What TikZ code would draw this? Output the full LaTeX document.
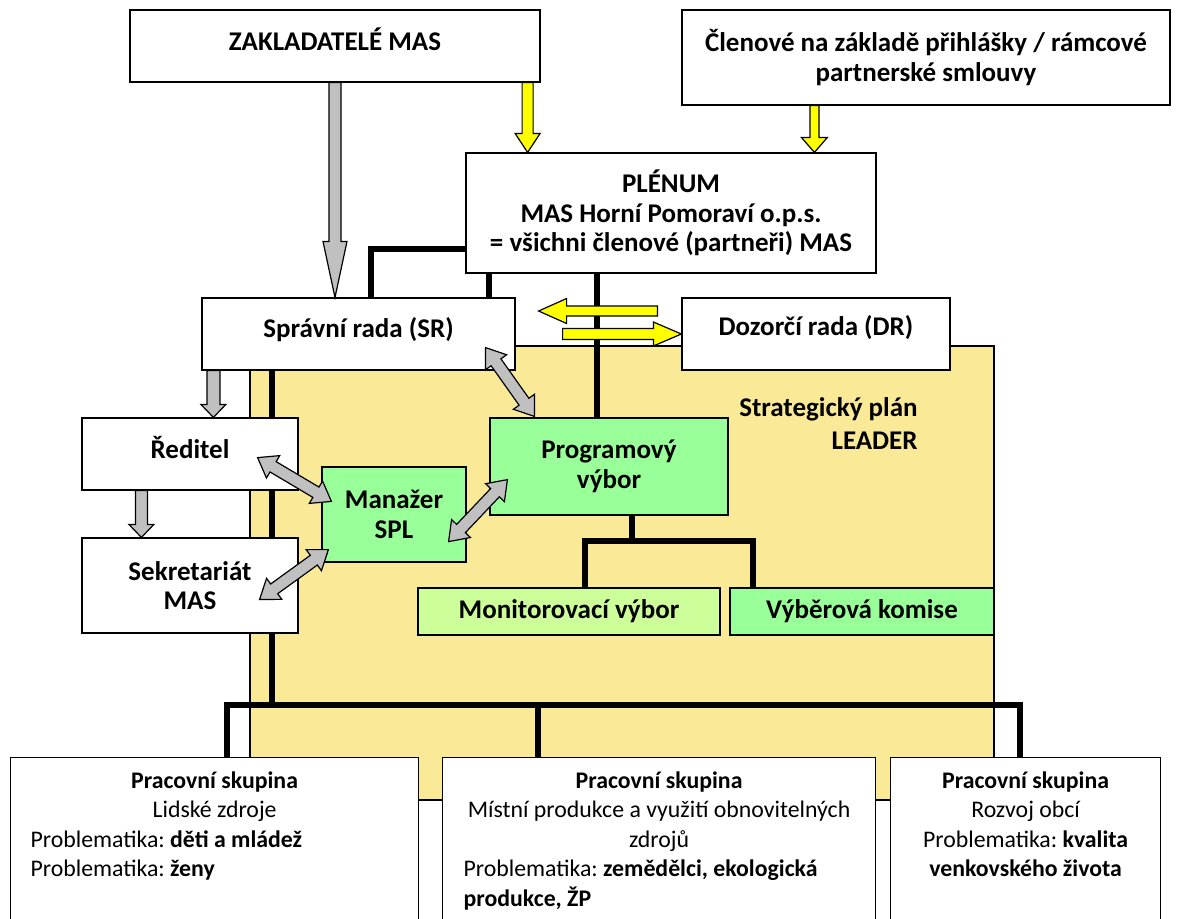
\documentclass[tikz,border=0pt]{standalone}
\usepackage{fontspec}
\setmainfont{Carlito}
\usetikzlibrary{calc}

\definecolor{zluta}{RGB}{250,233,150}
\definecolor{zelena}{RGB}{153,255,153}
\definecolor{svzelena}{RGB}{204,255,153}
\definecolor{seda}{RGB}{192,192,192}
\definecolor{sipkazluta}{RGB}{255,255,0}

\tikzset{
  box/.style={draw, line width=0.6pt, fill=white, inner sep=2pt, align=center,
    font=\fontsize{13.5}{14.75}\selectfont\bfseries},
  skupina/.style={draw, line width=0.6pt, fill=white, anchor=north west, inner ysep=7pt,
    font=\fontsize{11.9}{14.75}\selectfont},
  spoj/.style={line width=3pt},
}

% sipka: od, do, barva, pul sirky, pul hlavy, delka hlavy
\newcommand\sipka[6]{
  \coordinate (sA) at (#1);
  \coordinate (sB) at (#2);
  \coordinate (sH) at ($(sB)!#6!(sA)$);
  \draw[fill=#3, line width=0.6pt] ($(sA)!#4!90:(sB)$) -- ($(sH)!#4!90:(sB)$) -- ($(sH)!#5!90:(sB)$) -- (sB)
    -- ($(sH)!#5!-90:(sB)$) -- ($(sH)!#4!-90:(sB)$) -- ($(sA)!#4!-90:(sB)$) -- cycle;
}
% dvojsipka: od, do, pul sirky, pul hlavy, delka hlavy
\newcommand\dvojsipka[5]{
  \coordinate (sA) at (#1);
  \coordinate (sB) at (#2);
  \coordinate (sH) at ($(sB)!#5!(sA)$);
  \coordinate (sG) at ($(sA)!#5!(sB)$);
  \draw[fill=seda, line width=0.6pt] (sA) -- ($(sG)!#4!90:(sB)$) -- ($(sG)!#3!90:(sB)$) -- ($(sH)!#3!90:(sB)$)
    -- ($(sH)!#4!90:(sB)$) -- (sB) -- ($(sH)!#4!-90:(sB)$) -- ($(sH)!#3!-90:(sB)$)
    -- ($(sG)!#3!-90:(sB)$) -- ($(sG)!#4!-90:(sB)$) -- cycle;
}

\begin{document}
\frenchspacing
\begin{tikzpicture}[x=0.5pt, y=-0.5pt]
\useasboundingbox[fill=white] (0,0) rectangle (1184,918);
\clip (0,0) rectangle (1184,918);

\fill[zluta, draw=black, line width=0.6pt] (250,346) rectangle (994,800);

\node[box, text depth=7pt, minimum width=205pt, minimum height=36pt] (zakl) at (335,46) {ZAKLADATELÉ MAS};
\node[box, minimum width=244pt, minimum height=47.5pt] (clen) at (926,57.5) {Členové na základě přihlášky / rámcové\\partnerské smlouvy};
\node[box, minimum width=205pt, minimum height=60pt] (plen) at (671,213) {PLÉNUM\\MAS Horní Pomoraví o.p.s.\\= všichni členové (partneři) MAS};
\node[box, text depth=6.5pt, minimum width=156.5pt, minimum height=36pt] (sr) at (358.5,334) {Správní rada (SR)};
\node[box, text depth=8.5pt, minimum width=134pt, minimum height=36pt] (dr) at (816,334) {Dozorčí rada (DR)};
\node[box, fill=zelena, minimum width=72pt, minimum height=47.5pt] (man) at (394,514.5) {Manažer\\SPL};
\node[box, fill=zelena, minimum width=119pt, minimum height=48.5pt] (prog) at (609,466.5) {Programový\\výbor};
\node[box, fill=svzelena, minimum width=151pt, minimum height=23.5pt] (mon) at (569,611.5) {Monitorovací výbor};
\node[box, fill=zelena, minimum width=132pt, minimum height=23.5pt] (vyb) at (862,611.5) {Výběrová komise};
\node[font=\fontsize{13.5}{16.5}\selectfont\bfseries, align=right, anchor=east, inner sep=0pt] (spl) at (918,423.5) {Strategický plán\\LEADER};

\node[skupina, inner xsep=10pt] (ps1) at (10,757) {\parbox[t][75pt][t]{184pt}{%
  \centerline{\textbf{Pracovní skupina}}
  \centerline{Lidské zdroje}
  Problematika: \textbf{děti a mládež}\\
  Problematika: \textbf{ženy}}};
\node[skupina, inner xsep=10.5pt] (ps2) at (442,757) {\parbox[t][75pt][t]{195.5pt}{%
  \centerline{\textbf{Pracovní skupina}}
  \centerline{Místní produkce a využití obnovitelných}
  \centerline{zdrojů}
  Problematika: \textbf{zemědělci, ekologická}\\
  \textbf{produkce, ŽP}}};
\node[skupina, inner xsep=5pt] (ps3) at (890,757) {\parbox[t][75pt][t]{125pt}{%
  \centerline{\textbf{Pracovní skupina}}
  \centerline{Rozvoj obcí}
  \centerline{Problematika: \textbf{kvalita}}
  \centerline{\textbf{venkovského života}}}};

\coordinate (bus) at (0,705);
\draw[spoj] ($(plen.south west)!0.2!(plen.north west)$) -| ($(sr.north)+(12.5,0)$);
\draw[spoj] ($(plen.south west)+(24,0)$) coordinate (p1) -- (p1 |- sr.north);
\draw[spoj] ($(prog.north west)+(108,0)$) coordinate (p2) -- (p2 |- plen.south);
\draw[spoj] ($(prog.south west)+(143,0)$) coordinate (p3) -- ++(0,25) coordinate (p4);
\draw[spoj] ($(mon.north west)+(168,0)$) |- (p4) -| ($(vyb.north west)+(24,0)$);
\draw[spoj] ($(sr.south west)+(71,0)$) coordinate (s1) -- (s1 |- bus);
\coordinate (d1) at ($(ps1.north west)+(217,0)$);
\coordinate (d2) at ($(ps2.north west)+(96,0)$);
\coordinate (d3) at ($(ps3.north west)+(130,0)$);
\draw[spoj] (d1) -- (d1 |- bus) -- (d3 |- bus) -- (d3);
\draw[spoj] (d2) -- (d2 |- bus);

\node[box, text depth=7pt, minimum width=108pt, minimum height=36pt] (red) at (190,454) {Ředitel};
\node[box, minimum width=108pt, minimum height=47.5pt] (sek) at (190,585.5) {Sekretariát\\MAS};

\sipka{zakl.south}{zakl.south |- sr.north}{seda}{3pt}{6pt}{28pt}
\sipka{$(sr.south west)+(12,0)$}{sA |- red.north}{seda}{3.25pt}{6.25pt}{6.5pt}
\sipka{$(red.south west)+(60,0)$}{sA |- sek.north}{seda}{3pt}{6.25pt}{6.5pt}
\sipka{$(zakl.south east)+(-13,0)$}{sA |- plen.north}{sipkazluta}{2.75pt}{6.25pt}{9.5pt}
\sipka{$(clen.south west)+(133,0)$}{sA |- plen.north}{sipkazluta}{2.25pt}{6.5pt}{7.5pt}
\sipka{$(dr.west)+(-24,-23)$}{$(sr.east)+(23,-23)$}{sipkazluta}{2.5pt}{6.25pt}{14pt}
\sipka{$(sr.east)+(47,0)$}{dr.west}{sipkazluta}{2.75pt}{6pt}{14pt}

\dvojsipka{$(red.south east)+(-41,-33)$}{$(man.north west)+(10,35)$}{3pt}{6.5pt}{9pt}
\dvojsipka{$(sek.north east)+(-39,62)$}{$(man.south west)+(7,-13)$}{3pt}{6.5pt}{9pt}
\dvojsipka{$(man.south east)+(-18,-21)$}{$(prog.south west)+(18,-36)$}{3pt}{6.5pt}{9pt}
\dvojsipka{$(sr.south east)+(-30,-23)$}{$(prog.north west)+(45,-1)$}{3pt}{6.5pt}{9pt}
\end{tikzpicture}
\end{document}
